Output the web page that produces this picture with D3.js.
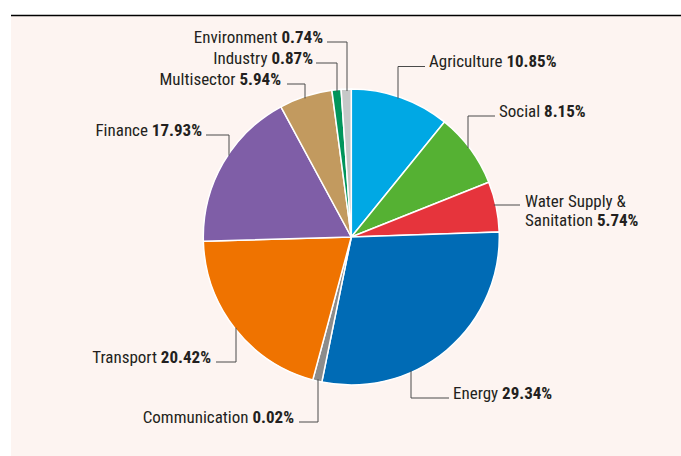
<!DOCTYPE html>
<html><head><meta charset="utf-8">
<script src="https://cdn.jsdelivr.net/npm/d3@7/dist/d3.min.js"></script>
<style>
html,body{margin:0;padding:0;background:#fff;}
svg{display:block;}
text{font-family:"Liberation Sans Narrow","Arial Narrow","Roboto Condensed","DejaVu Sans Condensed",sans-serif;font-size:17px;fill:#231f20;}
</style></head>
<body>
<svg id="chart" width="681" height="456"></svg>
<script>
// ---- data ----
const categories = ["Agriculture","Social","Water Supply & Sanitation","Energy","Communication","Transport","Finance","Multisector","Industry","Environment"];
const labelPercents = [10.85, 8.15, 5.74, 29.34, 0.02, 20.42, 17.93, 5.94, 0.87, 0.74];
// slice sizes as drawn in the picture (small slices are drawn visibly)
const drawnShares = [10.85, 8.15, 5.5, 28.8, 1.0, 20.4, 17.6, 5.8, 1.0, 1.1];
const colors = ["#00a8e4","#55b133","#e6343c","#006bb5","#8c8c8c","#ef7300","#7f5ea7","#c29a5f","#00955b","#c6c8c8"];

// ---- layout (not data) ----
const layout = {
  "Agriculture": {type:"v", ex:398, ly:66.5, hx:425, side:"right", tx:429},
  "Social": {type:"v", ex:468, ly:116, hx:495, side:"right", tx:499},
  "Water Supply & Sanitation": {type:"h", ly:205, hx:520, side:"right", tx:525, lines:["Water Supply &","Sanitation"]},
  "Energy": {type:"v", ex:411, ly:398, hx:449, side:"right", tx:453},
  "Communication": {type:"v", ex:318, ly:422, hx:299, side:"left", tx:294},
  "Transport": {type:"v", ex:236, ly:362, hx:216, side:"left", tx:211},
  "Finance": {type:"v", ex:229, ly:135, hx:206, side:"left", tx:202},
  "Multisector": {type:"v", ex:305, ly:84, hx:287, side:"left", tx:281},
  "Industry": {type:"v", ex:337, ly:63, hx:316, side:"left", tx:313},
  "Environment": {type:"v", ex:347, ly:42, hx:327, side:"left", tx:323}
};

const svg = d3.select("#chart");
const W = 681, H = 456;
svg.append("rect").attr("x",11).attr("y",16).attr("width",W-11).attr("height",H-16).attr("fill","#fdf4f1");
svg.append("line").attr("x1",11).attr("x2",W).attr("y1",15.5).attr("y2",15.5).attr("stroke","#000").attr("stroke-width",1.5);

const cx = 351.3, cy = 237, R = 148;
const data = categories.map((c,i)=>({name:c, pct:labelPercents[i], share:drawnShares[i], color:colors[i]}));
const pie = d3.pie().value(d=>d.share).sort(null);
const arc = d3.arc().innerRadius(0).outerRadius(R);
const g = svg.append("g").attr("transform",`translate(${cx},${cy})`);
g.selectAll("path").data(pie(data)).join("path")
  .attr("d",arc).attr("fill",d=>d.data.color)
  .attr("stroke","#ffffff").attr("stroke-width",1.5).attr("stroke-linejoin","round");

// leaders and labels
const lab = svg.append("g");
data.forEach(d=>{
  const L = layout[d.name];
  let pts;
  if(L.type==="v"){
    const dx = L.ex - cx;
    const dy = Math.sqrt(R*R - dx*dx);
    const edgeY = L.ly < cy ? cy - dy + 2 : cy + dy - 2;
    pts = [[L.hx,L.ly],[L.ex,L.ly],[L.ex,edgeY]];
  } else {
    const dy = L.ly - cy;
    const edgeX = cx + Math.sqrt(R*R - dy*dy) - 2;
    pts = [[edgeX,L.ly],[L.hx,L.ly]];
  }
  lab.append("path").attr("d",d3.line()(pts)).attr("fill","none").attr("stroke","#4a4a4a").attr("stroke-width",1);
  const anchor = L.side==="right" ? "start" : "end";
  if(L.lines){
    lab.append("text").attr("x",L.tx).attr("y",L.ly+2).attr("text-anchor",anchor).text(L.lines[0]);
    const t2 = lab.append("text").attr("x",L.tx).attr("y",L.ly+20.5).attr("text-anchor",anchor);
    t2.append("tspan").text(L.lines[1]+" ");
    t2.append("tspan").attr("font-weight","bold").text(d.pct.toFixed(2)+"%");
  } else {
    const t = lab.append("text").attr("x",L.tx).attr("y",L.ly+0.5).attr("text-anchor",anchor);
    t.append("tspan").text(d.name+" ");
    t.append("tspan").attr("font-weight","bold").text(d.pct.toFixed(2)+"%");
  }
});
</script>
</body></html>
